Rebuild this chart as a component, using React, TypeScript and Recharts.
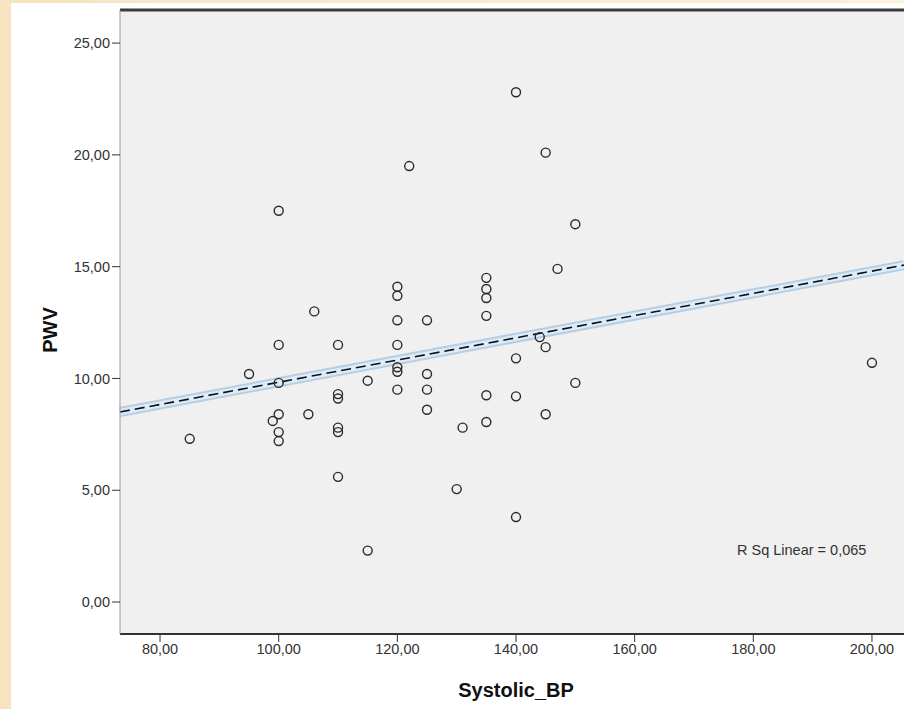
import { ScatterChart, Scatter, XAxis, YAxis, CartesianGrid, ReferenceLine } from "recharts";

// Systolic BP (x) and PWV (y)
const systolicBP = [
  85, 95, 100, 100, 100, 100, 99, 100, 100, 105, 106, 110, 110, 110, 110, 110, 110,
  115, 115, 120, 120, 120, 120, 120, 120, 120, 122, 125, 125, 125, 125, 131, 130,
  135, 135, 135, 135, 135, 135, 140, 140, 140, 140, 145, 145, 144, 145, 147, 150, 150, 200,
];
const pwv = [
  7.3, 10.2, 17.5, 11.5, 9.8, 8.4, 8.1, 7.6, 7.2, 8.4, 13.0, 11.5, 9.3, 9.1, 7.8, 7.6, 5.6,
  9.9, 2.3, 14.1, 13.7, 12.6, 11.5, 10.5, 10.3, 9.5, 19.5, 12.6, 10.2, 9.5, 8.6, 7.8, 5.05,
  14.5, 14.0, 13.6, 12.8, 9.25, 8.05, 22.8, 10.9, 9.2, 3.8, 20.1, 11.4, 11.85, 8.4, 14.9, 16.9, 9.8, 10.7,
];

const xTicks = [80, 100, 120, 140, 160, 180, 200];
const yTicks = [0, 5, 10, 15, 20, 25];
const xDomain = [73.25, 205.4];
const yDomain = [-1.43, 26.48];

// linear fit as shown in the plot
const fitSlope = 0.0497;
const fitIntercept = 4.86;
const rSquared = "0,065";

const points = systolicBP.map((x, i) => ({ x, y: pwv[i] }));
const fitSegment = xDomain.map((x) => ({ x, y: fitIntercept + fitSlope * x }));

const fmt = (v: number) => v.toFixed(2).replace(".", ",");
const font = '"Liberation Sans", Arial, sans-serif';

const Ring = (props: any) => {
  const { cx, cy } = props;
  return <circle cx={cx} cy={cy} r={4.5} fill="none" stroke="#2a2a2a" strokeWidth={1.4} />;
};

export default function App() {
  return (
    <div
      style={{
        position: "absolute",
        left: 0,
        top: 0,
        width: 904,
        height: 709,
        background: "linear-gradient(90deg, #f7e3bf, #fcf0da)",
        overflow: "hidden",
        fontFamily: font,
      }}
    >
      <div style={{ position: "absolute", left: 11, top: 3, width: 893, height: 706, background: "#fff" }} />
      <div style={{ position: "absolute", left: 0, top: 0 }}>
        <ScatterChart width={904} height={709} margin={{ top: 10, right: 0, bottom: 0, left: 12 }}>
          <CartesianGrid fill="#f0f0f0" stroke="none" horizontal={false} vertical={false} />
          <XAxis
            type="number"
            dataKey="x"
            domain={xDomain}
            ticks={xTicks}
            tickFormatter={fmt}
            height={75}
            tickSize={8}
            axisLine={{ stroke: "#333", strokeWidth: 2 }}
            tickLine={{ stroke: "#333" }}
            tick={{ fill: "#333", fontSize: 14.5, fontFamily: font }}
            allowDataOverflow
            label={{
              content: (p: any) => {
                const vb = p.viewBox;
                return (
                  <text
                    x={vb.x + 396}
                    y={vb.y + 63}
                    textAnchor="middle"
                    style={{ fontSize: 20, fontWeight: "bold", fill: "#111", fontFamily: font }}
                  >
                    Systolic_BP
                  </text>
                );
              },
            }}
          />
          <YAxis
            type="number"
            dataKey="y"
            domain={yDomain}
            ticks={yTicks}
            tickFormatter={fmt}
            width={108}
            tickSize={8}
            axisLine={{ stroke: "#999", strokeWidth: 1 }}
            tickLine={{ stroke: "#333" }}
            tick={{ fill: "#333", fontSize: 14.5, fontFamily: font }}
            allowDataOverflow
            label={{
              content: (p: any) => {
                const vb = p.viewBox;
                const x = vb.x + 38;
                const y = vb.y + vb.height / 2 + 8;
                return (
                  <text
                    x={x}
                    y={y}
                    transform={`rotate(-90, ${x}, ${y})`}
                    textAnchor="middle"
                    dominantBaseline="central"
                    style={{ fontSize: 20, fontWeight: "bold", fill: "#111", fontFamily: font }}
                  >
                    PWV
                  </text>
                );
              },
            }}
          />
          <ReferenceLine y={yDomain[1]} stroke="#3a3a3a" strokeWidth={3} />
          <ReferenceLine segment={fitSegment} stroke="#b3cfe5" strokeWidth={10} />
          <ReferenceLine segment={fitSegment} stroke="#dfecf7" strokeWidth={6} />
          <ReferenceLine segment={fitSegment} stroke="#111" strokeWidth={1.6} strokeDasharray="10 5" />
          <Scatter data={points} shape={Ring} isAnimationActive={false} />
        </ScatterChart>
      </div>
      <div
        style={{
          position: "absolute",
          left: 737,
          top: 542,
          fontSize: 14.5,
          color: "#333",
          whiteSpace: "nowrap",
        }}
      >
        R Sq Linear = {rSquared}
      </div>
    </div>
  );
}
